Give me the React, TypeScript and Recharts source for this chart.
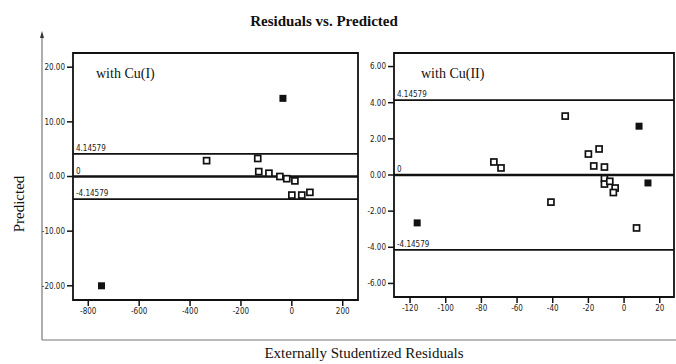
import React from 'react';
import {
  ScatterChart,
  Scatter,
  XAxis,
  YAxis,
  ReferenceLine,
  ReferenceArea,
} from 'recharts';

// left panel, with Cu(I)
const cu1Open = [
  { x: -335, y: 2.9 },
  { x: -134, y: 3.3 },
  { x: -130, y: 0.9 },
  { x: -90, y: 0.6 },
  { x: -47, y: 0 },
  { x: -20, y: -0.4 },
  { x: 12, y: -0.8 },
  { x: 0, y: -3.4 },
  { x: 39, y: -3.4 },
  { x: 71, y: -2.9 },
];
const cu1Filled = [
  { x: -35, y: 14.3 },
  { x: -748, y: -20 },
];
const cu1XTicks = [-800, -600, -400, -200, 0, 200];
const cu1YTicks = [-20, -10, 0, 10, 20];

// right panel, with Cu(II)
const cu2Open = [
  { x: -73, y: 0.72 },
  { x: -69, y: 0.39 },
  { x: -41, y: -1.5 },
  { x: -33, y: 3.26 },
  { x: -20, y: 1.16 },
  { x: -14, y: 1.44 },
  { x: -17, y: 0.5 },
  { x: -11, y: 0.44 },
  { x: -11, y: -0.2 },
  { x: -11, y: -0.5 },
  { x: -8, y: -0.35 },
  { x: -5, y: -0.72 },
  { x: -6, y: -0.97 },
  { x: 7, y: -2.93 },
];
const cu2Filled = [
  { x: -116, y: -2.65 },
  { x: 8.4, y: 2.7 },
  { x: 13.4, y: -0.44 },
];
const cu2XTicks = [-120, -100, -80, -60, -40, -20, 0, 20];
const cu2YTicks = [-6, -4, -2, 0, 2, 4, 6];

const limit = 4.14579;

const serif = '"Liberation Serif", "DejaVu Serif", serif';
const tickFont = '"DejaVu Sans Condensed", "DejaVu Sans", sans-serif';

const OpenSquare = (props: any) => (
  <rect x={props.cx - 3} y={props.cy - 3} width={6} height={6} fill="#fff" stroke="#111" strokeWidth={1.7} />
);
const FilledSquare = (props: any) => (
  <rect x={props.cx - 3.5} y={props.cy - 3.5} width={7} height={7} fill="#111" />
);

interface PanelProps {
  open: { x: number; y: number }[];
  filled: { x: number; y: number }[];
  xDomain: [number, number];
  yDomain: [number, number];
  xTicks: number[];
  yTicks: number[];
  width: number;
  margin: { top: number; right: number; bottom: number; left: number };
}

function Panel({ open, filled, xDomain, yDomain, xTicks, yTicks, width, margin }: PanelProps) {
  const tick = { fontSize: 8, fill: '#222', fontFamily: tickFont };
  const refLabel = (v: string) => ({
    value: v,
    position: 'insideBottomLeft' as const,
    offset: 3,
    fontSize: 8,
    fill: '#222',
    fontFamily: tickFont,
  });
  return (
    <ScatterChart width={width} height={364} margin={margin}>
      <XAxis
        type="number"
        dataKey="x"
        domain={xDomain}
        ticks={xTicks}
        allowDataOverflow
        axisLine={false}
        tickLine={{ stroke: '#111', strokeWidth: 1.5 }}
        tickSize={6}
        tick={tick}
        height={30}
      />
      <YAxis
        type="number"
        dataKey="y"
        domain={yDomain}
        ticks={yTicks}
        allowDataOverflow
        axisLine={false}
        tickLine={{ stroke: '#111', strokeWidth: 1.5 }}
        tickSize={6}
        tick={tick}
        width={40}
        tickFormatter={(v) => Number(v).toFixed(2)}
      />
      <ReferenceArea
        x1={xDomain[0]}
        x2={xDomain[1]}
        y1={yDomain[0]}
        y2={yDomain[1]}
        fill="none"
        stroke="#111"
        strokeWidth={1.8}
      />
      <ReferenceLine y={limit} stroke="#111" strokeWidth={1.8} label={refLabel('4.14579')} />
      <ReferenceLine y={0} stroke="#111" strokeWidth={2.4} label={refLabel('0')} />
      <ReferenceLine y={-limit} stroke="#111" strokeWidth={1.8} label={refLabel('-4.14579')} />
      <Scatter data={open} shape={OpenSquare} isAnimationActive={false} />
      <Scatter data={filled} shape={FilledSquare} isAnimationActive={false} />
    </ScatterChart>
  );
}

export default function App() {
  return (
    <div style={{ position: 'absolute', left: 0, top: 0, width: 676, height: 364, background: '#fff', overflow: 'hidden' }}>
      <svg width={676} height={364} style={{ position: 'absolute', left: 0, top: 0 }}>
        <line x1={42} y1={36} x2={42} y2={340} stroke="#777" strokeWidth={1.2} />
        <line x1={42} y1={340} x2={676} y2={340} stroke="#777" strokeWidth={1.2} />
        <polygon points="42,31 40,38 44,38" fill="#333" />
      </svg>
      <div style={{ position: 'absolute', left: 0, top: 0 }}>
        <Panel
          open={cu1Open}
          filled={cu1Filled}
          xDomain={[-860, 260]}
          yDomain={[-22.6, 22.6]}
          xTicks={cu1XTicks}
          yTicks={cu1YTicks}
          width={370}
          margin={{ top: 53, right: 12, bottom: 34, left: 33 }}
        />
      </div>
      <div style={{ position: 'absolute', left: 340, top: 0 }}>
        <Panel
          open={cu2Open}
          filled={cu2Filled}
          xDomain={[-129, 28]}
          yDomain={[-6.75, 6.75]}
          xTicks={cu2XTicks}
          yTicks={cu2YTicks}
          width={336}
          margin={{ top: 53, right: 2, bottom: 37, left: 14 }}
        />
      </div>
      <div style={{ position: 'absolute', left: 96, top: 66, fontFamily: serif, fontSize: 14, color: '#111' }}>with Cu(I)</div>
      <div style={{ position: 'absolute', left: 421, top: 66, fontFamily: serif, fontSize: 14, color: '#111' }}>with Cu(II)</div>
      <div
        style={{
          position: 'absolute',
          left: 0,
          width: 648,
          top: 13,
          textAlign: 'center',
          fontFamily: serif,
          fontWeight: 'bold',
          fontSize: 15,
          color: '#111',
        }}
      >
        Residuals vs. Predicted
      </div>
      <div
        style={{
          position: 'absolute',
          left: 0,
          width: 728,
          top: 345,
          lineHeight: '17px',
          textAlign: 'center',
          fontFamily: serif,
          fontSize: 15,
          color: '#111',
        }}
      >
        Externally Studentized Residuals
      </div>
      <div
        style={{
          position: 'absolute',
          left: 19,
          top: 204,
          transform: 'translate(-50%, -50%) rotate(-90deg)',
          fontFamily: serif,
          fontSize: 15,
          color: '#111',
          whiteSpace: 'nowrap',
        }}
      >
        Predicted
      </div>
    </div>
  );
}
